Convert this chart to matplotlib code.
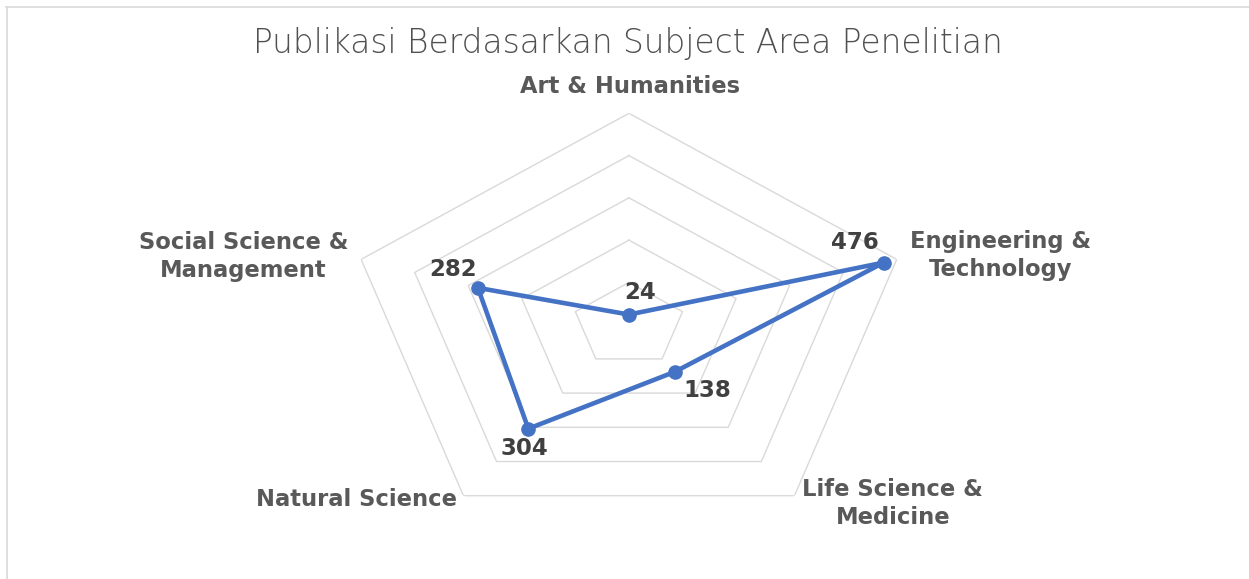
import numpy as np
import matplotlib.pyplot as plt
from matplotlib.lines import Line2D

categories = ['Art & Humanities', 'Engineering &\nTechnology', 'Life Science &\nMedicine',
              'Natural Science', 'Social Science &\nManagement']
values = [24, 476, 138, 304, 282]
rings = [100, 200, 300, 400, 500]

blue = '#4472C4'
grid_col = '#D9D9D9'
txt_col = '#595959'

fig = plt.figure(figsize=(12.49, 5.79), dpi=100)
ax = fig.add_axes([0.2781, 0.0741, 0.4509, 0.7302], projection='polar')
ax.set_aspect('auto')
ax.set_theta_zero_location('N')
ax.set_theta_direction(-1)
ax.set_ylim(0, 500)
ax.grid(False)
ax.set_xticks([])
ax.set_yticks([])
ax.spines['polar'].set_visible(False)
ax.patch.set_alpha(0)

n = len(categories)
theta = np.linspace(0, 2 * np.pi, n, endpoint=False)
theta_c = np.append(theta, theta[0])

# pentagon gridlines
for r in rings:
    ax.plot(theta_c, [r] * (n + 1), color=grid_col, lw=1.0, zorder=1)

vals_c = values + values[:1]
ax.plot(theta_c, vals_c, color=blue, lw=3.3, zorder=3)
ax.plot(theta, values, 'o', color=blue, ms=9.5, zorder=4)

# category labels
cat_pos = [
    (1, 27, 'center', 'center'),
    (13, 4, 'left', 'center'),
    (8, -8, 'left', 'center'),
    (-6, -4, 'right', 'center'),
    (-13, 3, 'right', 'center'),
]
for t, lab, (dx, dy, ha, va) in zip(theta, categories, cat_pos):
    ax.annotate(lab, (t, 500), xytext=(dx, dy), textcoords='offset pixels',
                ha=ha, va=va, multialignment='center', fontsize=16.3,
                fontweight='bold', color=txt_col, family='DejaVu Sans',
                linespacing=1.3, annotation_clip=False)

# data labels
val_off = [(11, 22), (-29, 20), (33, -19), (-4, -20), (-25, 18)]
for t, v, (dx, dy) in zip(theta, values, val_off):
    ax.annotate(str(v), (t, v), xytext=(dx, dy), textcoords='offset pixels',
                ha='center', va='center', fontsize=16.5, fontweight='bold',
                color='#404040', annotation_clip=False)

fig.text(0.5025, 1 - 43 / 579, 'Publikasi Berdasarkan Subject Area Penelitian',
         ha='center', va='center', fontsize=23.6, color='#505050',
         family='DejaVu Sans', fontweight='light')

# chart area border (top and left edges visible)
fig.add_artist(Line2D([6 / 1249, 1], [1 - 7 / 579, 1 - 7 / 579],
                      transform=fig.transFigure, color=grid_col, lw=1.2))
fig.add_artist(Line2D([7 / 1249, 7 / 1249], [0, 1 - 7 / 579],
                      transform=fig.transFigure, color=grid_col, lw=1.2))

fig.savefig('out.png', dpi=100)
